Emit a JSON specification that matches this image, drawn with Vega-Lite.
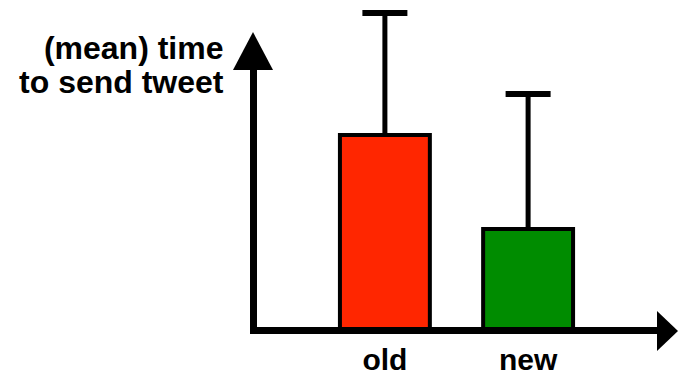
{
  "$schema": "https://vega.github.io/schema/vega-lite/v6.json",
  "width": 407,
  "height": 280,
  "autosize": {"type": "none"},
  "padding": {"left": 253, "top": 50, "right": 18, "bottom": 44},
  "background": "white",
  "config": {"view": {"stroke": null}, "font": "Liberation Sans"},
  "data": {
    "values": [
      {"version": "old", "mean": 19.5, "upper": 31.7},
      {"version": "new", "mean": 10.1, "upper": 23.6}
    ]
  },
  "layer": [
    {
      "mark": {"type": "bar", "stroke": "black", "strokeWidth": 4},
      "encoding": {
        "x": {
          "field": "version", "type": "nominal", "sort": ["old", "new"],
          "scale": {"paddingInner": 0.372, "paddingOuter": 0.607},
          "axis": {
            "title": null, "labelAngle": 0, "labelFontSize": 30, "labelFontWeight": "bold",
            "labelColor": "black", "ticks": false, "labelPadding": 15,
            "domainColor": "black", "domainWidth": 7, "domainCap": "square", "zindex": 1
          }
        },
        "y": {
          "field": "mean", "type": "quantitative",
          "scale": {"domain": [0, 28]},
          "axis": {
            "title": ["(mean) time", "to send tweet"], "titleAngle": 0, "titleAlign": "right",
            "titleBaseline": "alphabetic", "titleX": -30, "titleY": 8, "titleFontSize": 32,
            "titleFontWeight": "bold", "titleColor": "black", "titleLineHeight": 34,
            "labels": false, "ticks": false, "grid": false,
            "domainColor": "black", "domainWidth": 7, "domainCap": "square", "zindex": 1
          }
        },
        "color": {
          "field": "version", "type": "nominal",
          "scale": {"domain": ["old", "new"], "range": ["#FF2600", "#008C00"]},
          "legend": null
        }
      }
    },
    {
      "mark": {"type": "rule", "strokeWidth": 5, "color": "black"},
      "encoding": {
        "x": {"field": "version", "type": "nominal", "sort": ["old", "new"]},
        "y": {"field": "mean", "type": "quantitative"},
        "y2": {"field": "upper"}
      }
    },
    {
      "mark": {"type": "tick", "thickness": 6, "size": 45, "color": "black", "opacity": 1},
      "encoding": {
        "x": {"field": "version", "type": "nominal", "sort": ["old", "new"]},
        "y": {"field": "upper", "type": "quantitative"}
      }
    },
    {
      "data": {"values": [{"arrow": "y"}]},
      "mark": {"type": "point", "shape": "M-1,0.95L0,-0.95L1,0.95Z", "size": 1600, "filled": true, "color": "black", "opacity": 1, "yOffset": 1},
      "encoding": {
        "x": {"value": 0},
        "y": {"datum": 28, "type": "quantitative"}
      }
    },
    {
      "data": {"values": [{"arrow": "x"}]},
      "mark": {"type": "point", "shape": "M-0.525,-1L0.525,0L-0.525,1Z", "size": 1600, "filled": true, "color": "black", "opacity": 1, "xOffset": 7.5, "yOffset": 1},
      "encoding": {
        "x": {"value": "width"},
        "y": {"datum": 0, "type": "quantitative"}
      }
    }
  ]
}
